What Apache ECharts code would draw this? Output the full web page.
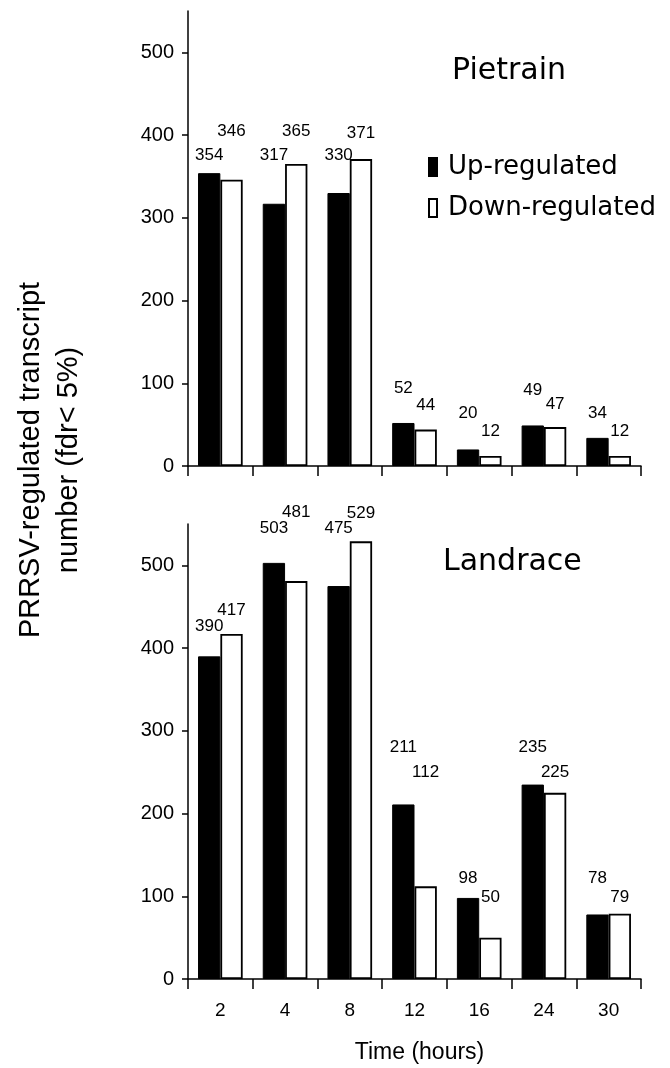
<!DOCTYPE html>
<html>
<head>
<meta charset="utf-8">
<script src="https://cdn.jsdelivr.net/npm/echarts@6/dist/echarts.min.js"></script>
<style>
html,body{margin:0;padding:0;background:#fff;}
#chart{width:670px;height:1068px;}
</style>
</head>
<body>
<div id="chart"></div>
<script>
// ---- data ----
var times = ['2', '4', '8', '12', '16', '24', '30'];
var pietrainUp = [354, 317, 330, 52, 20, 49, 34];
var pietrainDown = [346, 365, 371, 44, 12, 47, 12];
var landraceUp = [390, 503, 475, 211, 98, 235, 78];
var landraceDown = [417, 481, 529, 112, 50, 225, 79];
var yTickValues = [0, 100, 200, 300, 400, 500];
var seriesNames = ['Up-regulated', 'Down-regulated'];
var panelTitles = ['Pietrain', 'Landrace'];

// ---- label placement styles (distance above bar tops, px) ----
var pUpDist = [9, 40, 29, 26, 28, 27, 16];
var pDownDist = [40, 24, 17, 16, 16, 14, 16];
var lUpDist = [22, 26, 49, 49, 11, 29, 28];
var lDownDist = [15, 60, 20, 106, 32, 12, 8];

var ARIAL = 'Liberation Sans';
var WIDE = 'DejaVu Sans';

function items(vals, dists) {
  return vals.map(function (v, i) {
    return { value: v, label: { distance: dists[i] } };
  });
}

var labelStyle = {
  show: true, position: 'top', fontSize: 17, fontFamily: ARIAL, color: '#000'
};

function xAxis(idx, showLabels) {
  return {
    type: 'category', gridIndex: idx, data: times,
    axisLine: { lineStyle: { color: '#000', width: 1.5 } },
    axisTick: { show: true, length: 10, lineStyle: { color: '#000', width: 1.5 } },
    axisLabel: { show: showLabels, fontSize: 19, fontFamily: ARIAL, color: '#000', margin: 22 },
    name: showLabels ? 'Time (hours)' : '',
    nameLocation: 'middle', nameGap: 62,
    nameTextStyle: { fontSize: 23, fontFamily: ARIAL, color: '#000', padding: [0, 0, 0, 10] },
    splitLine: { show: false }
  };
}
function yAxis(idx) {
  return {
    type: 'value', gridIndex: idx, min: 0, max: 550, interval: 50,
    axisLine: { show: true, lineStyle: { color: '#000', width: 1.5 } },
    axisTick: { show: true, length: 6, customValues: yTickValues, lineStyle: { color: '#000', width: 1.5 } },
    axisLabel: { fontSize: 20, fontFamily: ARIAL, color: '#000', margin: 14, customValues: yTickValues },
    splitLine: { show: false }
  };
}

function bars(name, xi, yi, data, black) {
  return {
    name: name, type: 'bar', xAxisIndex: xi, yAxisIndex: yi,
    data: data, barGap: '0%', barCategoryGap: '31%',
    itemStyle: black ? { color: '#000', borderColor: '#000', borderWidth: 1 }
                     : { color: '#fff', borderColor: '#000', borderWidth: 1.8 },
    label: labelStyle
  };
}

var option = {
  backgroundColor: '#fff',
  animation: false,
  title: [
    { text: panelTitles[0], left: 452, top: 56, padding: 0,
      textStyle: { fontFamily: WIDE, fontSize: 30, fontWeight: 'normal', color: '#000' } },
    { text: panelTitles[1], left: 443, top: 547, padding: 0,
      textStyle: { fontFamily: WIDE, fontSize: 30, fontWeight: 'normal', color: '#000' } }
  ],
  legend: {
    orient: 'vertical', left: 428, top: 154, padding: 0,
    itemWidth: 8, itemHeight: 18, itemGap: 15, icon: 'rect',
    textStyle: { fontFamily: WIDE, fontSize: 26, color: '#000', padding: [0, 0, 0, 6] },
    data: seriesNames
  },
  grid: [
    { left: 188, top: 11, width: 453, height: 455 },
    { left: 188, top: 524, width: 453, height: 455 }
  ],
  xAxis: [xAxis(0, false), xAxis(1, true)],
  yAxis: [yAxis(0), yAxis(1)],
  series: [
    bars(seriesNames[0], 0, 0, items(pietrainUp, pUpDist), true),
    bars(seriesNames[1], 0, 0, items(pietrainDown, pDownDist), false),
    bars(seriesNames[0], 1, 1, items(landraceUp, lUpDist), true),
    bars(seriesNames[1], 1, 1, items(landraceDown, lDownDist), false)
  ],
  graphic: [{
    type: 'text', x: 50, y: 460, rotation: Math.PI / 2,
    style: {
      text: 'PRRSV-regulated transcript\nnumber (fdr< 5%)',
      font: '29px "Liberation Sans"', fill: '#000',
      align: 'center', verticalAlign: 'middle', lineHeight: 38
    }
  }]
};

var chart = echarts.init(document.getElementById('chart'), null, { renderer: 'canvas' });
chart.setOption(option);
</script>
</body>
</html>
